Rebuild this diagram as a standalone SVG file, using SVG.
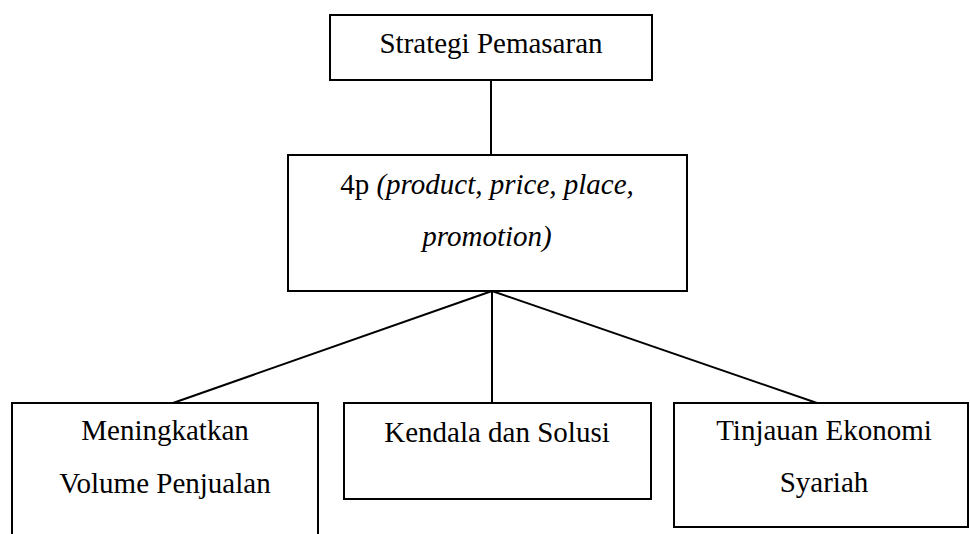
<svg xmlns="http://www.w3.org/2000/svg" width="970" height="534" viewBox="0 0 970 534">
<style>
.box{fill:#fff;stroke:#000;stroke-width:2}
.lbl{font-family:"Liberation Serif","Times New Roman",serif;font-size:29px;fill:#000;text-anchor:middle}
.it{font-style:italic}
.con{stroke:#000;stroke-width:2;fill:none}
</style>
<rect width="970" height="534" fill="#fff"/>
<g id="connectors">
<line class="con" x1="491" y1="80" x2="491" y2="155"/>
<line class="con" x1="492" y1="291" x2="173" y2="403"/>
<line class="con" x1="492" y1="291" x2="492" y2="403"/>
<line class="con" x1="492" y1="291" x2="817" y2="403"/>
</g>
<g id="strategi">
<rect class="box" x="330" y="15" width="322" height="65"/>
<text class="lbl" x="491" y="53">Strategi Pemasaran</text>
</g>
<g id="4p">
<rect class="box" x="288" y="155" width="399" height="136"/>
<text class="lbl" x="487" y="194">4p <tspan class="it">(product, price, place,</tspan></text>
<text class="lbl it" x="487" y="246">promotion)</text>
</g>
<g id="volume">
<rect class="box" x="12" y="403" width="306" height="140"/>
<text class="lbl" x="165" y="440">Meningkatkan</text>
<text class="lbl" x="165" y="493">Volume Penjualan</text>
</g>
<g id="kendala">
<rect class="box" x="344" y="403" width="307" height="96"/>
<text class="lbl" x="497" y="442">Kendala dan Solusi</text>
</g>
<g id="tinjauan">
<rect class="box" x="674" y="403" width="294" height="124"/>
<text class="lbl" x="824" y="440">Tinjauan Ekonomi</text>
<text class="lbl" x="824" y="492">Syariah</text>
</g>
</svg>
